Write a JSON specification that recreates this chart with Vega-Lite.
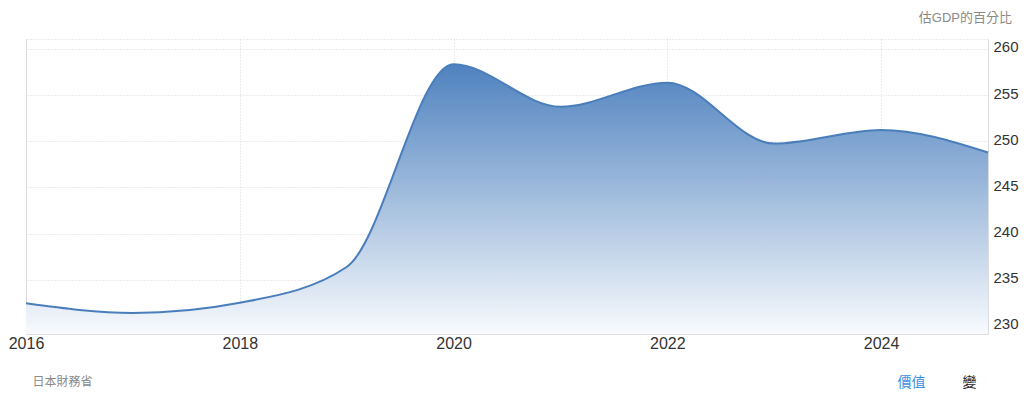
{
  "$schema": "https://vega.github.io/schema/vega-lite/v6.json",
  "width": 962,
  "height": 295,
  "autosize": {"type": "none"},
  "padding": {"left": 26, "top": 39, "right": 40, "bottom": 77},
  "background": "white",
  "config": {
    "view": {"stroke": null},
    "font": "Liberation Sans, Noto Sans CJK TC"
  },
  "title": {
    "text": "估GDP的百分比",
    "anchor": "end",
    "frame": "group",
    "dx": 24,
    "offset": 14,
    "fontSize": 13,
    "fontWeight": "normal",
    "color": "#8a8a8a"
  },
  "data": {
    "values": [
      {"year": 2016, "value": 232.46},
      {"year": 2017, "value": 231.41},
      {"year": 2018, "value": 232.52},
      {"year": 2019, "value": 236.39},
      {"year": 2020, "value": 258.35},
      {"year": 2021, "value": 253.75},
      {"year": 2022, "value": 256.35},
      {"year": 2023, "value": 249.75},
      {"year": 2024, "value": 251.23},
      {"year": 2025, "value": 248.79}
    ]
  },
  "encoding": {
    "x": {
      "field": "year",
      "type": "quantitative",
      "scale": {"domain": [2016, 2025], "nice": false, "zero": false},
      "axis": {
        "orient": "bottom",
        "values": [2016, 2018, 2020, 2022, 2024],
        "format": "d",
        "grid": true,
        "gridColor": "#d9d9d9",
        "gridDash": [1, 2],
        "domainColor": "#dcdcdc",
        "ticks": false,
        "labelFlush": false,
        "labelFontSize": 16,
        "labelColor": "#333333",
        "labelPadding": 1,
        "title": "日本財務省",
        "titleX": 6,
        "titleY": 47,
        "titleAlign": "left",
        "titleBaseline": "middle",
        "titleFontSize": 12,
        "titleFontWeight": "normal",
        "titleColor": "#8a8a8a"
      }
    }
  },
  "layer": [
    {
      "mark": {
        "type": "area",
        "interpolate": "monotone",
        "color": {
          "gradient": "linear",
          "x1": 0, "y1": 0, "x2": 0, "y2": 1,
          "stops": [
            {"offset": 0, "color": "#4f82bf"},
            {"offset": 1, "color": "#f8fafd"}
          ]
        }
      },
      "encoding": {
        "y": {
          "field": "value",
          "type": "quantitative",
          "scale": {"domain": [229.13, 261.08], "nice": false, "zero": false},
          "axis": {
            "orient": "right",
            "values": [230, 235, 240, 245, 250, 255, 260, 261.08],
            "labelExpr": "datum.value > 260.5 ? '' : datum.label",
            "grid": true,
            "gridColor": "#d9d9d9",
            "gridDash": [1, 2],
            "domainColor": "#dcdcdc",
            "ticks": false,
            "labelFontSize": 15,
            "labelColor": "#333333",
            "labelPadding": 5,
            "labelOffset": -2,
            "title": "價值",
            "titleAngle": 0,
            "titleX": -77,
            "titleY": 343,
            "titleAlign": "center",
            "titleBaseline": "middle",
            "titleFontSize": 14,
            "titleFontWeight": "normal",
            "titleColor": "#3d8fe0"
          }
        },
        "y2": {"datum": 229.13}
      }
    },
    {
      "mark": {
        "type": "line",
        "interpolate": "monotone",
        "color": "#4a7ebb",
        "strokeWidth": 2
      },
      "encoding": {
        "y": {
          "field": "value",
          "type": "quantitative",
          "scale": {"domain": [229.13, 261.08], "nice": false, "zero": false},
          "axis": {
            "orient": "left",
            "labels": false,
            "ticks": false,
            "grid": false,
            "domainColor": "#dcdcdc",
            "title": "變",
            "titleAngle": 0,
            "titleX": 943,
            "titleY": 343,
            "titleAlign": "center",
            "titleBaseline": "middle",
            "titleFontSize": 14,
            "titleFontWeight": "normal",
            "titleColor": "#222222"
          }
        }
      }
    }
  ],
  "resolve": {"axis": {"y": "independent"}}
}
